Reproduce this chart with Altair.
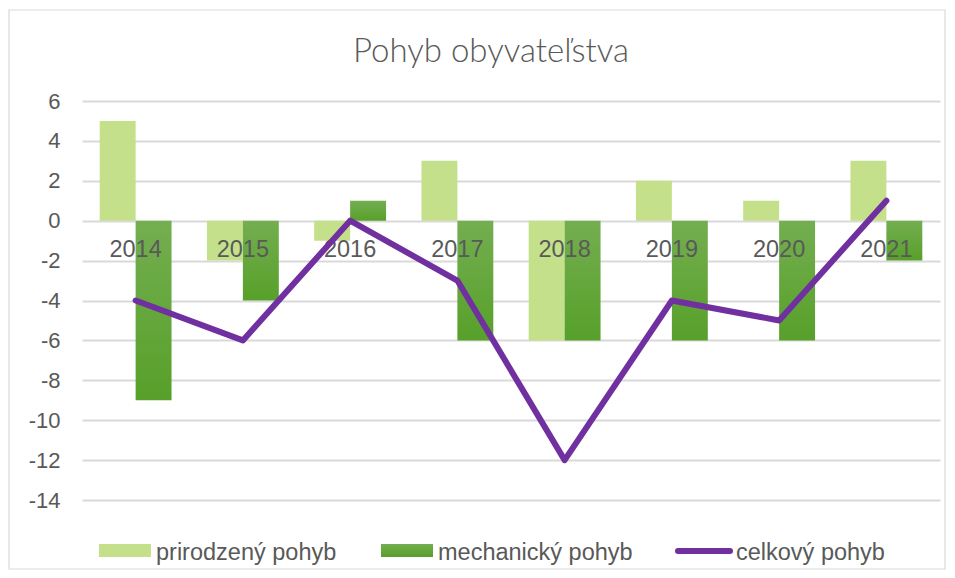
import altair as alt
import pandas as pd

years = ["2014", "2015", "2016", "2017", "2018", "2019", "2020", "2021"]
prirodzeny = [5, -2, -1, 3, -6, 2, 1, 3]
mechanicky = [-9, -4, 1, -6, -6, -6, -6, -2]
celkovy = [-4, -6, 0, -3, -12, -4, -5, 1]
series_names = ["prirodzený pohyb", "mechanický pohyb", "celkový pohyb"]
y_ticks = [6, 4, 2, 0, -2, -4, -6, -8, -10, -12, -14]
title_text = "Pohyb obyvateľstva"

LIGHT = "#C4E08A"
PURPLE = "#7030A0"
TXT = "#595959"
FONT = "Liberation Sans"

bars = pd.DataFrame({
    "rok": years * 2,
    "serie": [series_names[0]] * len(years) + [series_names[1]] * len(years),
    "hodnota": prirodzeny + mechanicky,
})
line_df = pd.DataFrame({"rok": years, "hodnota": celkovy})
one = pd.DataFrame({"k": [0]})

x_enc = alt.X("rok:N", sort=years, axis=None,
              scale=alt.Scale(paddingInner=0.33, paddingOuter=0.165))
y_scale = alt.Scale(domain=[-14, 6], nice=False, zero=False)
y_axis = alt.Axis(values=y_ticks, tickCount=11, title=None, domain=False, ticks=False,
                  labelFont=FONT, labelFontSize=22, labelColor=TXT,
                  labelOverlap=False, labelExpr="datum.value + ''",
                  labelPadding=22, gridColor="#D9D9D9", gridWidth=1.8)
y_enc = alt.Y("hodnota:Q", scale=y_scale, axis=y_axis)
xo = alt.XOffset("serie:N", scale=alt.Scale(domain=series_names[:2]), sort=series_names[:2])

light_bars = alt.Chart(bars).transform_filter(
    alt.datum.serie == series_names[0]
).mark_bar(color=LIGHT).encode(x=x_enc, xOffset=xo, y=y_enc)

dark_grad = alt.Gradient(
    gradient="linear",
    stops=[alt.GradientStop(color="#74AE50", offset=0),
           alt.GradientStop(color="#57A02A", offset=1)],
    x1=0, x2=0, y1=0, y2=1,
)
dark_bars = alt.Chart(bars).transform_filter(
    alt.datum.serie == series_names[1]
).mark_bar(fill=dark_grad).encode(x=x_enc, xOffset=xo, y=y_enc)

year_labels = alt.Chart(line_df).mark_text(
    font=FONT, fontSize=23.5, color=TXT, dy=29
).encode(
    x=alt.X("rok:N", sort=years, axis=None),
    y=alt.Y("zero:Q", scale=y_scale, axis=y_axis),
    text="rok:N",
).transform_calculate(zero="0")

line = alt.Chart(line_df).mark_line(
    color=PURPLE, strokeWidth=6, strokeCap="round", strokeJoin="round"
).encode(x=alt.X("rok:N", sort=years, axis=None), y=y_enc)

border = alt.Chart(one).mark_rect(fill=None, stroke="#D9D9D9", strokeWidth=1.2).encode(
    x=alt.value(-73), x2=alt.value(863), y=alt.value(-91), y2=alt.value(468))

title = alt.Chart(one).mark_text(
    font="Lato", fontWeight=300, fontSize=33, color=TXT, align="center", baseline="alphabetic"
).encode(x=alt.value(409), y=alt.value(-39), text=alt.value(title_text))

leg_y = 450
leg1 = alt.Chart(one).mark_rect(color=LIGHT).encode(
    x=alt.value(17), x2=alt.value(69), y=alt.value(leg_y - 7), y2=alt.value(leg_y + 6))
leg2 = alt.Chart(one).mark_rect(fill=dark_grad).encode(
    x=alt.value(299), x2=alt.value(351), y=alt.value(leg_y - 7), y2=alt.value(leg_y + 6))
leg3 = alt.Chart(one).mark_rule(color=PURPLE, strokeWidth=6, strokeCap="round").encode(
    x=alt.value(596), x2=alt.value(648), y=alt.value(leg_y))

def leg_text(label, xpos):
    return alt.Chart(one).mark_text(
        font=FONT, fontSize=23.5, color=TXT, align="left", baseline="middle"
    ).encode(x=alt.value(xpos), y=alt.value(leg_y + 2), text=alt.value(label))

chart = alt.layer(
    light_bars, dark_bars, year_labels, line, border, title,
    leg1, leg2, leg3,
    leg_text(series_names[0], 74), leg_text(series_names[1], 356), leg_text(series_names[2], 654),
).properties(
    width=858, height=399,
    padding={"left": 74, "top": 93, "right": 7, "bottom": 70},
    autosize=alt.AutoSizeParams(type="none"),
    background="white",
).configure_view(stroke=None, strokeWidth=0)

chart.save("out.html", embed_options={"renderer": "svg", "actions": False})
